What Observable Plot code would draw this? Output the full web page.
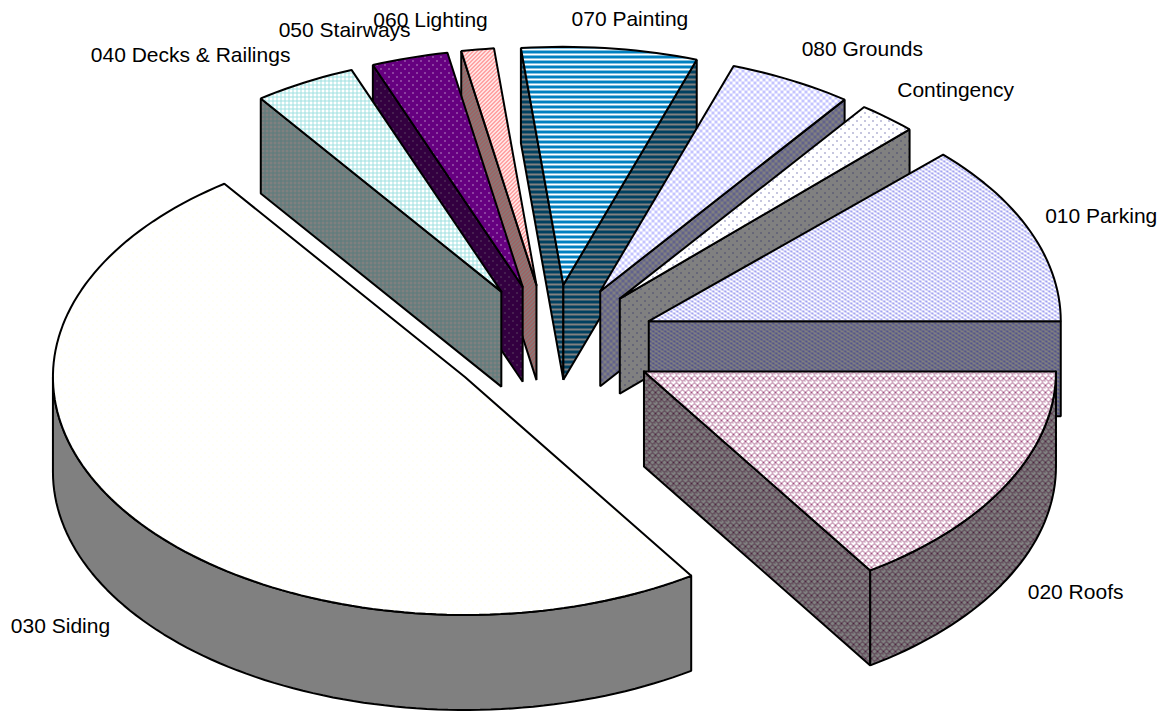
<!DOCTYPE html>
<html>
<head>
<meta charset="utf-8">
<script src="https://cdn.jsdelivr.net/npm/d3@7"></script>
<script src="https://cdn.jsdelivr.net/npm/@observablehq/plot@0.6"></script>
<style>
html,body{margin:0;padding:0;background:#fff}
svg{display:block}
</style>
</head>
<body>
<div id="chart"></div>
<script>
// Data: share of the total, in percent
const categories = ["010 Parking","020 Roofs","030 Siding","040 Decks & Railings","050 Stairways","060 Lighting","070 Painting","080 Grounds","Contingency"];
const shares = [12.33,15.75,49.33,4.0,3.0,1.28,6.89,4.86,2.31];
// Label nudges from the outer middle of each slice, in pixels
const labelDx = [71,69,-65,-114,-65,-47,20,71,68];
const labelDy = [-15,108,114,-27,-28,-29,-29,-31,-28];
// Paint order, back to front
const paintOrder = [6,5,4,3,7,8,0,1,2];
const topFill  = ["p-park","p-roof","p-sid","p-deck","p-stair","p-light","p-paint","p-ground","p-cont"];
const wallFill = ["w-park","w-roof","w-sid","w-deck","w-stair","w-light","w-paint","w-ground","w-cont"];

const W = 1172, H = 711;
const cx = 551, cy = 343, rx = 412, ry = 238;   // pixel frame of the unit pie
const startDeg = -44.4, explodeX = 0.255, explodeY = 0.248, depth = 95 / ry;

// Slices in unit pie coordinates
const rad = d => d * Math.PI / 180;
let running = startDeg;
const slices = categories.map((name, i) => {
  const a0 = running, a1 = running + shares[i] * 3.6;
  running = a1;
  const mid = (a0 + a1) / 2;
  return {name, i, a0, a1, mid, ox: explodeX * Math.cos(rad(mid)), oy: explodeY * Math.sin(rad(mid))};
});
const arc = (s, from, to, dz = 0) => {
  const n = Math.max(2, Math.ceil((to - from) / 1.5));
  return d3.range(n + 1).map(k => {
    const t = rad(from + (to - from) * k / n);
    return {x: s.ox + Math.cos(t), y: s.oy + Math.sin(t) + dz};
  });
};
const faces = s => {
  const out = [];
  const apex = {x: s.ox, y: s.oy}, apexB = {x: s.ox, y: s.oy + depth};
  const radial = a => {
    const p = arc(s, a, a)[0];
    const q = {x: p.x, y: p.y + depth};
    return [apex, p, q, apexB, apex];
  };
  // cut walls whose outward side faces the viewer
  if (Math.cos(rad(s.a0)) < 0) out.push({pts: radial(s.a0), fill: wallFill[s.i]});
  if (Math.cos(rad(s.a1)) > 0) out.push({pts: radial(s.a1), fill: wallFill[s.i]});
  // outer rim, only its front half
  const lo = Math.max(s.a0, 0), hi = Math.min(s.a1, 180);
  if (hi > lo) {
    const top = arc(s, lo, hi), bot = arc(s, lo, hi, depth).reverse();
    out.push({pts: [...top, ...bot, top[0]], fill: wallFill[s.i]});
  }
  // top surface
  out.push({pts: [apex, ...arc(s, s.a0, s.a1), apex], fill: topFill[s.i]});
  return out;
};

const marks = paintOrder.flatMap(i => faces(slices[i]).map(f =>
  Plot.line(f.pts, {x: "x", y: "y", fill: `url(#${f.fill})`, stroke: "#000", strokeWidth: 2, strokeLinejoin: "miter"})
));

const labels = slices.map(s => ({
  name: s.name,
  x: s.ox + Math.cos(rad(s.mid)),
  y: s.oy + Math.sin(rad(s.mid)),
  dx: labelDx[s.i],
  dy: labelDy[s.i]
}));
labels.forEach(l => marks.push(Plot.text([l], {
  x: "x", y: "y", text: "name", dx: l.dx, dy: l.dy,
  fontSize: 21, fontFamily: "Liberation Sans, Arial, sans-serif", fill: "#000", textAnchor: "middle"
})));

const plot = Plot.plot({
  width: W, height: H, margin: 0,
  style: {background: "#fff", overflow: "hidden"},
  x: {axis: null, domain: [-cx / rx, (W - cx) / rx], range: [0, W]},
  y: {axis: null, domain: [-cy / ry, (H - cy) / ry], range: [0, H]},
  marks
});

// Hatch patterns of the original chart
const pat = (id, w, h, bg, body) =>
  `<pattern id="${id}" width="${w}" height="${h}" patternUnits="userSpaceOnUse"><rect width="${w}" height="${h}" fill="${bg}"/><g shape-rendering="crispEdges">${body}</g></pattern>`;
const rect = (x, y, w, h, c) => `<rect x="${x}" y="${y}" width="${w}" height="${h}" fill="${c}"/>`;
const grid = c => rect(0, 0, 1, 4, c) + rect(0, 0, 4, 1, c);
const dots = (c, w, h) => rect(0, 0, 1, 1, c) + rect(w / 2, h / 2, 1, 1, c);
const diag = c => rect(0, 3, 1, 1, c) + rect(1, 2, 1, 1, c) + rect(2, 1, 1, 1, c) + rect(3, 0, 1, 1, c) + rect(0, 2, 1, 1, c) + rect(1, 1, 1, 1, c) + rect(2, 0, 1, 1, c) + rect(3, 3, 1, 1, c);
const fine = c => rect(0, 0, 3, 1, c) + rect(1, 1, 2, 1, c) + rect(3, 2, 3, 1, c) + rect(4, 3, 2, 1, c);
const check = c => rect(0, 0, 3, 3, c) + rect(3, 3, 3, 3, c);
const wave = c => rect(0, 0, 2, 1, c) + rect(2, 1, 1, 1, c) + rect(3, 2, 2, 1, c) + rect(5, 1, 1, 1, c) + rect(0, 2, 1, 1, c) + rect(3, 4, 2, 1, c) + rect(2, 5, 1, 1, c) + rect(0, 6, 2, 1, c) + rect(5, 5, 1, 1, c);
const hlines = c => rect(0, 0, 5, 3, c);
const defs = [
  pat("p-park", 6, 4, "#fff", fine("#a3a3f0")),
  pat("w-park", 6, 4, "#808080", fine("#54548c")),
  pat("p-roof", 6, 7, "#fff", wave("#a04f80")),
  pat("w-roof", 6, 7, "#808080", wave("#4d2640")),
  pat("p-sid", 8, 8, "#fff", dots("#ffffd8", 8, 8)),
  pat("w-sid", 4, 4, "#808080", ""),
  pat("p-deck", 4, 4, "#fff", grid("#9fe0e0")),
  pat("w-deck", 4, 4, "#808080", grid("#5a7c7c")),
  pat("p-stair", 8, 8, "#660080", dots("#ffffff", 8, 8)),
  pat("w-stair", 8, 8, "#330040", dots("#808080", 8, 8)),
  pat("p-light", 4, 4, "#fff", diag("#ff8585")),
  pat("w-light", 4, 4, "#808080", diag("#a65a5a")),
  pat("p-paint", 5, 5, "#fff", hlines("#0080c0")),
  pat("w-paint", 5, 5, "#808080", hlines("#004060")),
  pat("p-ground", 6, 6, "#fff", check("#c4c4ff")),
  pat("w-ground", 6, 6, "#808080", check("#62628c")),
  pat("p-cont", 8, 8, "#fff", dots("#1a1a80", 8, 8)),
  pat("w-cont", 8, 8, "#808080", dots("#1a1a60", 8, 8))
].join("");
plot.insertAdjacentHTML("afterbegin", `<defs>${defs}</defs>`);
document.getElementById("chart").append(plot);
</script>
</body>
</html>
